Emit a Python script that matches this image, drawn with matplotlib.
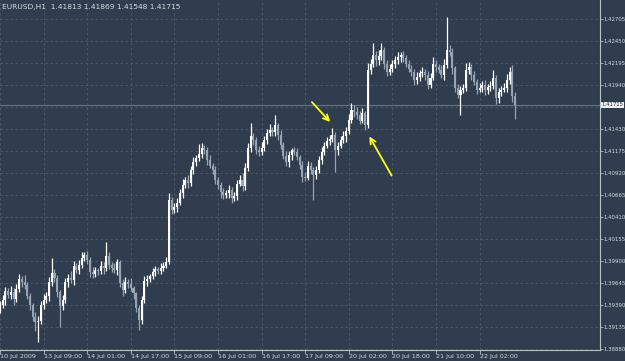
import matplotlib
matplotlib.use("Agg")
import matplotlib.pyplot as plt
import matplotlib.transforms as mtransforms
from matplotlib import font_manager

# === data: EURUSD H1 closes ===
first_open = 1.3935
closes = [
    1.3940, 1.3945, 1.3956, 1.3951, 1.3955, 1.3947, 1.3958, 1.3970, 1.3966, 1.3963,
    1.3950, 1.3940, 1.3926, 1.3920, 1.3921, 1.3940, 1.3945, 1.3950, 1.3966, 1.3977,
    1.3971, 1.3955, 1.3938, 1.3945, 1.3966, 1.3971, 1.3969, 1.3985, 1.3980, 1.3986,
    1.3994, 1.3997, 1.3992, 1.3978, 1.3975, 1.3980, 1.3979, 1.3985, 1.3982, 1.3996,
    1.3986, 1.3982, 1.3980, 1.3989, 1.3965, 1.3957, 1.3966, 1.3964, 1.3959, 1.3953,
    1.3936, 1.3922, 1.3945, 1.3967, 1.3970, 1.3973, 1.3978, 1.3981, 1.3979, 1.3983,
    1.3985, 1.3989, 1.4061, 1.4050, 1.4053, 1.4058, 1.4069, 1.4079, 1.4084, 1.4081,
    1.4096, 1.4105, 1.4110, 1.4115, 1.4122, 1.4119, 1.4108, 1.4101, 1.4096, 1.4084,
    1.4079, 1.4070, 1.4067, 1.4069, 1.4073, 1.4064, 1.4066, 1.4080, 1.4084, 1.4077,
    1.4098, 1.4122, 1.4135, 1.4131, 1.4119, 1.4117, 1.4122, 1.4131, 1.4139, 1.4142,
    1.4140, 1.4148, 1.4137, 1.4125, 1.4112, 1.4105, 1.4113, 1.4119, 1.4117, 1.4111,
    1.4102, 1.4088, 1.4087, 1.4101, 1.4096, 1.4090, 1.4096, 1.4108, 1.4117, 1.4124,
    1.4130, 1.4132, 1.4137, 1.4119, 1.4124, 1.4131, 1.4135, 1.4141, 1.4154, 1.4166,
    1.4163, 1.4160, 1.4153, 1.4162, 1.4148, 1.4212, 1.4219, 1.4229, 1.4223, 1.4228,
    1.4235, 1.4219, 1.4210, 1.4213, 1.4219, 1.4223, 1.4227, 1.4229, 1.4226, 1.4219,
    1.4213, 1.4210, 1.4200, 1.4204, 1.4208, 1.4210, 1.4206, 1.4195, 1.4203, 1.4219,
    1.4215, 1.4212, 1.4206, 1.4218, 1.4235, 1.4233, 1.4214, 1.4191, 1.4183, 1.4189,
    1.4191, 1.4212, 1.4215, 1.4206, 1.4198, 1.4189, 1.4191, 1.4195, 1.4189, 1.4192,
    1.4193, 1.4203, 1.4179, 1.4186, 1.4189, 1.4191, 1.4200, 1.4210, 1.41813, 1.41715,
]
# wick lengths above / below the body, in pips
wick_up = [
    4, 6, 5, 3, 7, 4, 6, 5, 3, 8,   3, 4, 2, 5, 6, 4, 7, 5, 6, 17,
    4, 3, 2, 6, 5, 4, 8, 5, 3, 6,   7, 4, 5, 3, 6, 4, 3, 5, 4, 17,
    5, 3, 6, 4, 3, 5, 6, 4, 7, 3,   2, 4, 5, 6, 4, 3, 5, 4, 3, 5,
    4, 6, 8, 4, 5, 6, 5, 7, 4, 6,   5, 6, 4, 11, 5, 3, 4, 6, 3, 5,
    4, 3, 5, 4, 6, 3, 5, 4, 6, 8,   6, 5, 15, 4, 3, 5, 6, 4, 5, 7,
    4, 12, 3, 5, 4, 6, 5, 3, 4, 5,  3, 4, 6, 5, 4, 3, 5, 4, 6, 5,
    4, 5, 8, 3, 5, 4, 6, 5, 7, 8,   5, 6, 4, 6, 3, 8, 6, 14, 5, 7,
    8, 4, 5, 6, 4, 5, 6, 4, 5, 3,   4, 5, 3, 6, 4, 5, 3, 5, 6, 8,
    5, 4, 6, 7, 38, 6, 4, 3, 5, 4,  5, 8, 6, 4, 5, 3, 6, 4, 5, 4,
    6, 9, 3, 5, 4, 6, 7, 6, 8, 5.6,
]
wick_dn = [
    5, 4, 6, 3, 5, 7, 4, 3, 6, 5,   4, 6, 5, 10, 23, 4, 5, 3, 6, 4,
    5, 6, 24, 4, 3, 5, 4, 6, 3, 5,  4, 3, 5, 6, 4, 3, 5, 4, 6, 3,
    5, 4, 3, 6, 5, 7, 4, 5, 3, 6,   5, 11, 4, 3, 5, 4, 3, 5, 4, 3,
    4, 3, 2, 5, 4, 6, 3, 5, 4, 6,   3, 5, 4, 3, 5, 4, 6, 3, 5, 4,
    5, 6, 4, 3, 5, 6, 4, 5, 3, 5,   4, 3, 5, 6, 4, 5, 3, 4, 5, 3,
    5, 4, 6, 5, 3, 4, 6, 5, 4, 3,   5, 6, 4, 3, 5, 29, 4, 3, 5, 4,
    3, 5, 4, 25, 5, 3, 4, 6, 3, 4,  6, 5, 4, 3, 6, 3, 5, 4, 6, 5,
    4, 6, 5, 4, 3, 5, 4, 6, 5, 4,   3, 5, 6, 4, 5, 4, 6, 5, 4, 3,
    5, 4, 3, 6, 4, 5, 7, 5, 4, 23,  4, 3, 5, 6, 4, 5, 3, 4, 6, 5,
    4, 3, 6, 5, 4, 3, 5, 4, 6, 16.7,
]
date_labels = ["10 Jul 2009", "13 Jul 09:00", "14 Jul 01:00", "14 Jul 17:00",
               "15 Jul 09:00", "16 Jul 01:00", "16 Jul 17:00", "17 Jul 09:00",
               "20 Jul 02:00", "20 Jul 18:00", "21 Jul 10:00", "22 Jul 02:00"]
bars_per_label = 16
price_ticks = [1.38880, 1.39135, 1.39390, 1.39645, 1.39900, 1.40155, 1.40410, 1.40665,
               1.40920, 1.41175, 1.41430, 1.41685, 1.41940, 1.42195, 1.42450, 1.42705]
last_price = 1.41715
header = "EURUSD,H1  1.41813 1.41869 1.41548 1.41715"

# narrow font like the terminal's bitmap font, if there is one
names = {f.name for f in font_manager.fontManager.ttflist}
if "Liberation Sans Narrow" in names:
    plt.rcParams["font.family"] = ["Liberation Sans Narrow", "DejaVu Sans"]
    fx, fy = 5.6, 4.6
else:
    plt.rcParams["font.family"] = ["DejaVu Sans"]
    fx, fy = 4.6, 3.9

# === build OHLC ===
opens = [first_open] + closes[:-1]
highs = [max(o, c) + u / 10000 for o, c, u in zip(opens, closes, wick_up)]
lows = [min(o, c) - d / 10000 for o, c, d in zip(opens, closes, wick_dn)]
idx = list(range(len(closes)))

bg = "#2f3d4e"
bull = "#ffffff"
bear = "#97a4b3"
txt = "#d5dbe1"

fig = plt.figure(figsize=(6.25, 3.61), dpi=100, facecolor=bg)
ax = fig.add_axes([0, 11 / 361, 600 / 625, 350 / 361])
ax.set_facecolor(bg)

cols = [bull if c >= o else bear for o, c in zip(opens, closes)]
ax.vlines(idx, lows, highs, colors=cols, lw=0.9)
bottoms = [min(o, c) for o, c in zip(opens, closes)]
heights = [max(abs(c - o), 0.00004) for o, c in zip(opens, closes)]
ax.bar(idx, heights, bottom=bottoms, width=0.75, color=cols, linewidth=0)

ax.axhline(last_price, color="#5d7f7a", lw=0.8, zorder=0.5)

ax.set_xlim(0.4, 220.2)
ax.set_ylim(1.38874, 1.42931)

# grid + ticks
xt = [i * bars_per_label for i in range(len(date_labels))]
ax.set_xticks(xt)
ax.set_xticklabels(date_labels, ha="left")
ax.set_yticks(price_ticks)
ax.set_yticklabels(["" if abs(p - 1.41685) < 1e-6 else f"{p:.5f}" for p in price_ticks])
ax.yaxis.tick_right()
ax.grid(True, color="#4c5c6e", linestyle=(0, (3, 3)), lw=0.6)
ax.set_axisbelow(True)
ax.tick_params(axis="x", colors="#b8c0c8", labelcolor=txt, labelsize=fx,
               length=3, width=0.6, pad=0.2)
ax.tick_params(axis="y", colors="#b8c0c8", labelcolor=txt, labelsize=fy,
               length=2, width=0.6, pad=0.3)
for s in ["top", "left"]:
    ax.spines[s].set_visible(False)
for s in ["right", "bottom"]:
    ax.spines[s].set_color("#b8c0c8")
    ax.spines[s].set_linewidth(0.8)

# current price box
trans = mtransforms.blended_transform_factory(ax.transAxes, ax.transData)
ax.text(1.003, last_price, f"{last_price:.5f}", transform=trans, fontsize=fy,
        color="#1e2a36", va="center", ha="left",
        bbox=dict(boxstyle="square,pad=0.12", fc="#f0f0f0", ec="none"))

fig.text(2 / 625, 1 - 7 / 361, header, fontsize=5.4, color=txt, va="center")

# yellow arrows (figure pixels, origin bottom-left)
arrow = dict(arrowstyle="->", color="#ffff1a", lw=1.3, mutation_scale=10)
ax.annotate("", xy=(332, 237), xytext=(310, 261), xycoords="figure pixels",
            textcoords="figure pixels", arrowprops=arrow)
ax.annotate("", xy=(368, 227), xytext=(393, 183), xycoords="figure pixels",
            textcoords="figure pixels", arrowprops=arrow)

fig.savefig("out.png", dpi=100, facecolor=bg)
